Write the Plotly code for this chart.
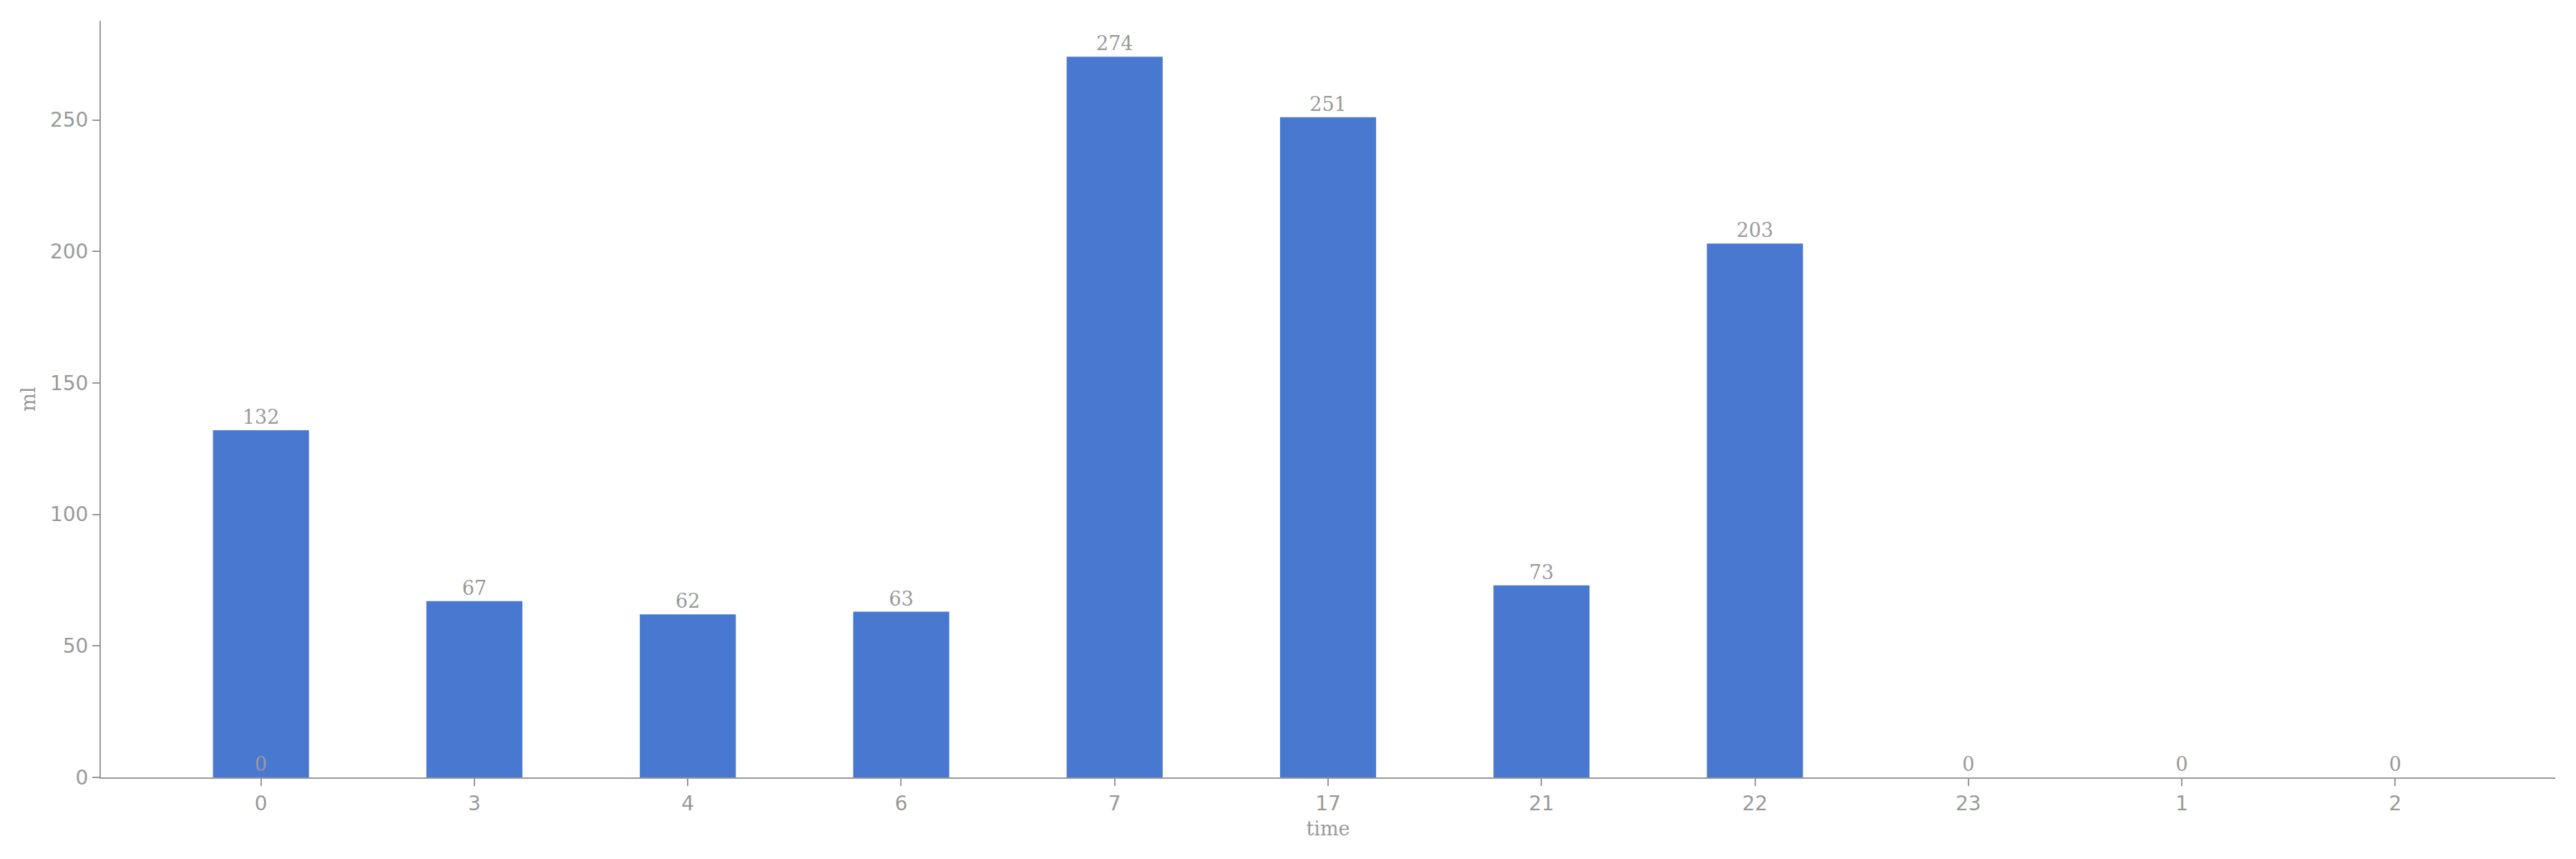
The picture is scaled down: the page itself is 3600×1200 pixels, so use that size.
import plotly.graph_objects as go

# hourly intake, in the order the hours were logged (hour "0" shows up twice)
hours = ["0", "3", "4", "6", "7", "17", "21", "22", "23", "0", "1", "2"]
ml = [132, 67, 62, 63, 274, 251, 73, 203, 0, 0, 0, 0]

BLUE = "#4878d0"
GREY = "#999999"
SPLIT = 9  # second pass of the clock starts here


def bar_trace(xs, ys):
    return go.Bar(
        x=xs,
        y=ys,
        width=0.45,
        marker_color=BLUE,
        marker_line_width=0,
        text=[str(v) for v in ys],
        textposition="outside",
        cliponaxis=False,
        textfont=dict(family="DejaVu Serif", size=27, color=GREY),
    )


fig = go.Figure([bar_trace(hours[:SPLIT], ml[:SPLIT]), bar_trace(hours[SPLIT:], ml[SPLIT:])])

# page body adds an 8px offset, margins are trimmed for it
fig.update_layout(
    width=3600,
    height=1200,
    barmode="overlay",
    paper_bgcolor="white",
    plot_bgcolor="white",
    margin=dict(l=133, r=37, t=21, b=122),
    showlegend=False,
    font=dict(family="DejaVu Sans", size=28, color=GREY),
)
fig.update_xaxes(
    type="category",
    range=[-0.75, 10.75],
    showline=True,
    linecolor=GREY,
    linewidth=2,
    ticks="outside",
    ticklen=10,
    tickwidth=2,
    tickcolor=GREY,
    showgrid=False,
    zeroline=False,
    title=dict(text="time", font=dict(family="DejaVu Serif", size=27, color=GREY), standoff=11),
)
fig.update_yaxes(
    range=[0, max(ml) * 1.05],
    showline=True,
    linecolor=GREY,
    linewidth=2,
    ticks="outside",
    ticklen=10,
    tickwidth=2,
    tickcolor=GREY,
    showgrid=False,
    zeroline=False,
    tickvals=[0, 50, 100, 150, 200, 250],
    title=dict(text="ml", font=dict(family="DejaVu Serif", size=27, color=GREY), standoff=12),
)

fig.write_html("out.html")
